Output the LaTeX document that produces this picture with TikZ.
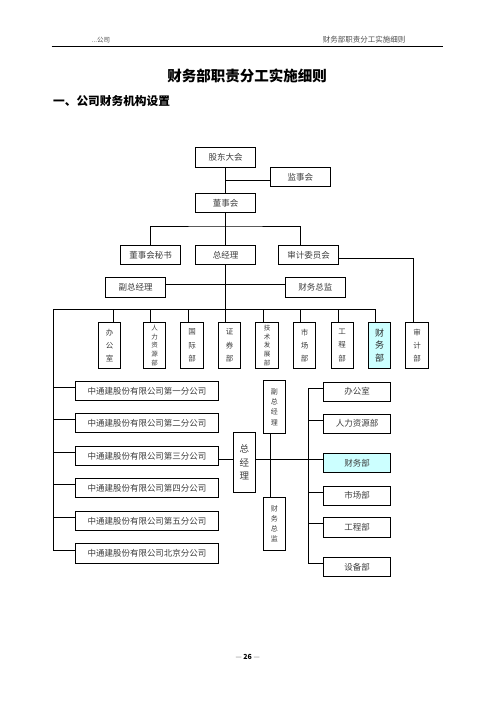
\documentclass[tikz,border=0pt]{standalone}
\usepackage{fontspec}
\setmainfont{Noto Sans CJK SC}
\usepackage{tikz}
\usetikzlibrary{positioning,calc}
\definecolor{boxtext}{RGB}{60, 60, 60}
\definecolor{paleblue}{RGB}{204, 255, 255}

\begin{document}
\begin{tikzpicture}[x=1pt, y=-1pt, line width=0.8pt,
    box/.style={draw, inner sep=0pt, minimum width=60, minimum height=19.5, text=boxtext, font=\fontsize{8.5}{10}\selectfont},
    cobox/.style={box, minimum width=142.6},
    unitbox/.style={box, minimum width=67.4},
    vbox/.style={draw, inner sep=0pt, minimum width=22.5, minimum height=45.6, align=center, text=boxtext, font=\fontsize{7.5}{13.3}\selectfont},
    vboxfive/.style={vbox, font=\fontsize{6.5}{8.7}\selectfont}]
    \useasboundingbox (0,0) rectangle (496,702);

    \node[text=black!70, font=\fontsize{6.5}{8}\selectfont] (headl) at (101,40) {...公司};
    \node[text=black!70, font=\fontsize{7.5}{9}\selectfont] (headr) at (364,40) {财务部职责分工实施细则};
    \draw[line width=1pt] (51.7,46) -- (443.3,46);
    \node[font=\fontsize{14.5}{16}\selectfont\bfseries] (title) at (247.2,76) {财务部职责分工实施细则};
    \node[anchor=west, inner sep=0pt, font=\fontsize{11.7}{13}\selectfont\bfseries] (sect) at (52.7,101) {一、公司财务机构设置};

    \node[box] (gd) at (225.5,157.3) {股东大会};
    \node[box] (jsh) at (300.3,177) {监事会};
    \node[box] (dsh) at (225.5,202.8) {董事会};
    \node[box] (ms) at (150.7,254.8) {董事会秘书};
    \node[box] (zjl) at (225.5,254.8) {总经理};
    \node[box] (sjw) at (308.7,254.8) {审计委员会};
    \node[box] (fzjl) at (135.7,287.3) {副总经理};
    \node[box] (cwzj) at (315.3,287.3) {财务总监};

    \coordinate (dbus) at (225.5,226);
    \coordinate (busL) at (53.3,309);

    \draw (gd) -- (dsh);
    \draw ([yshift=-3.7pt]jsh.west) -- ([yshift=-3.7pt]jsh.west -| gd.south);
    \draw (dsh.south) -- (zjl.north);
    \draw (ms.north) |- (dbus) -| ([xshift=-8.4pt]sjw.north);
    \draw ([yshift=3pt]fzjl.east) -- ([yshift=3pt]cwzj.west);

    \node[vbox] (d1) at (109.5,345.5) {办\\公\\室};
    \node[vboxfive] (d2) at (154.5,345.5) {人\\力\\资\\源\\部};
    \node[vbox] (d3) at (192,345.5) {国\\际\\部};
    \node[vbox] (d4) at (229.5,345.5) {证\\券\\部};
    \node[vboxfive] (d5) at (267,345.5) {技\\术\\发\\展\\部};
    \node[vbox] (d6) at (304.5,345.5) {市\\场\\部};
    \node[vbox] (d7) at (342.2,345.5) {工\\程\\部};
    \node[vbox, fill=paleblue, text=black!85, font=\fontsize{9}{12.8}\selectfont] (d8) at (379.5,345.5) {财\\务\\部};
    \node[vbox] (d9) at (417,345.5) {审\\计\\部};

    \draw (zjl.south) -- (zjl.south |- busL);
    \draw (busL) -| ([xshift=-3.8pt]d8.north);
    \foreach \n/\dx in {d1/3.8, d2/-4.5, d3/-3.7, d4/-3.8, d5/-3.7, d6/-3.8, d7/-3.9}
      \draw ([xshift=\dx pt]\n.north) -- ([xshift=\dx pt]\n.north |- busL);
    \draw ([yshift=-3.5pt]sjw.east) -| ([xshift=-3.7pt]d9.north);

    \node[cobox] (c1) at (147,391) {中通建股份有限公司第一分公司};
    \node[cobox] (c2) at (147,423) {中通建股份有限公司第二分公司};
    \node[cobox] (c3) at (147,456) {中通建股份有限公司第三分公司};
    \node[cobox] (c4) at (147,488) {中通建股份有限公司第四分公司};
    \node[cobox] (c5) at (147,521) {中通建股份有限公司第五分公司};
    \node[cobox] (c6) at (147,553.5) {中通建股份有限公司北京分公司};

    \draw (busL) -- ([yshift=3.5pt]c6.west -| busL);
    \foreach \i in {1,...,6}
      \draw ([yshift=3.5pt]c\i.west) -- ([yshift=3.5pt]c\i.west -| busL);

    \node[vbox, minimum width=22, minimum height=59.6, font=\fontsize{9.5}{13.3}\selectfont] (gm) at (244.3,462.5) {总\\经\\理};
    \node[vbox, minimum width=22, minimum height=52.3, font=\fontsize{7}{10.3}\selectfont] (vp) at (274.3,407) {副\\总\\经\\理};
    \node[vbox, minimum width=22, minimum height=52.6, font=\fontsize{7}{10}\selectfont] (cfo) at (274.3,524) {财\\务\\总\\监};

    \node[unitbox] (r1) at (357,391.7) {办公室};
    \node[unitbox] (r2) at (357,423.7) {人力资源部};
    \node[unitbox, fill=paleblue] (r3) at (357,463) {财务部};
    \node[unitbox] (r4) at (357,495.7) {市场部};
    \node[unitbox] (r5) at (357,527.3) {工程部};
    \node[unitbox] (r6) at (357,566.8) {设备部};

    \draw ([yshift=3.2pt]gm.west) -- ([yshift=3.2pt]gm.west -| c3.east);
    \draw ([yshift=3.2pt]gm.east) -- ([yshift=3.2pt]gm.east -| r3.west);
    \draw ([xshift=-4pt]vp.south) -- ([xshift=-4pt]cfo.north);
    \draw ([yshift=3.5pt]r1.west) -| ([xshift=-15pt,yshift=3.5pt]r6.west) -- ([yshift=3.5pt]r6.west);
    \foreach \i in {2,4,5}
      \draw ([yshift=3.5pt]r\i.west) -- ++(-15,0);

    \node[text=black!60, font=\fontsize{7}{8}\selectfont] (foot) at (247.7,656.7) {— \textcolor{black}{\bfseries 26} —};
\end{tikzpicture}
\end{document}
